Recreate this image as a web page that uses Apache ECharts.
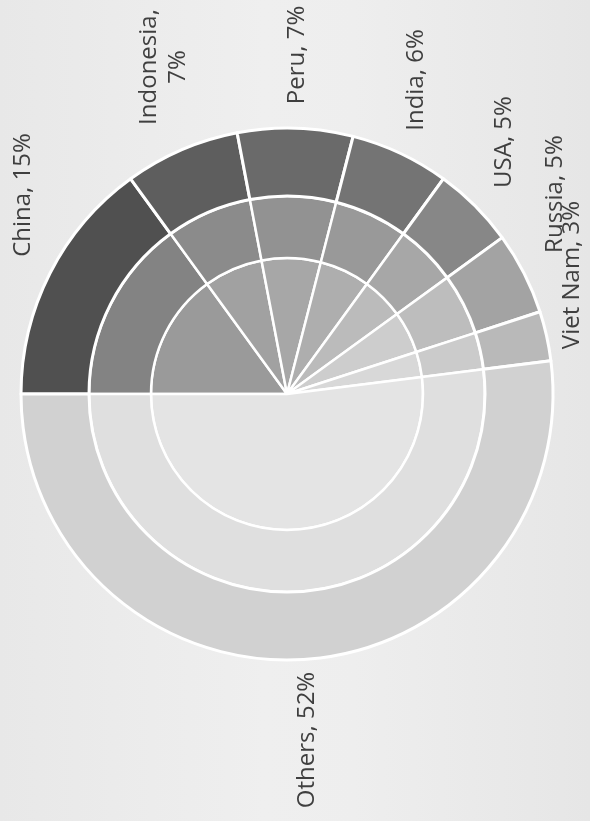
<!DOCTYPE html>
<html>
<head>
<meta charset="utf-8">
<script src="https://cdn.jsdelivr.net/npm/echarts@6/dist/echarts.min.js"></script>
<style>
  html, body { margin: 0; padding: 0; }
  #chart { width: 590px; height: 821px; }
</style>
</head>
<body>
<div id="chart"></div>
<script>
// Producer shares (%)
const countries = ['China', 'Indonesia', 'Peru', 'India', 'USA', 'Russia', 'Viet Nam', 'Others'];
const shares = [15, 7, 7, 6, 5, 5, 3, 52];
// labels that break after the comma
const wrapLabel = [false, true, false, false, false, false, false, false];

// Ring shades, darkest on the outside
const outerColors = ['#505050', '#5e5e5e', '#6a6a6a', '#747474', '#878787', '#a3a3a3', '#b9b9b9', '#d1d1d1'];
const middleColors = ['#838383', '#8b8b8b', '#929292', '#999999', '#a7a7a7', '#bdbdbd', '#cbcbcb', '#dfdfdf'];
const innerColors = ['#9a9a9a', '#a1a1a1', '#a7a7a7', '#aeaeae', '#bbbbbb', '#cdcdcd', '#d8d8d8', '#e4e4e4'];

// Label anchor points (pixels), one per slice
const labelAnchors = [[23, 195], [164, 67], [297, 55], [416, 80], [504, 142], [555, 194], [572, 275], [307, 740]];

const center = [287, 394];

function ring(colors, radius, border, withLabels) {
  return {
    type: 'pie',
    center: center,
    radius: radius,
    startAngle: 180,
    clockwise: true,
    silent: true,
    animation: false,
    avoidLabelOverlap: false,
    data: countries.map((name, i) => ({
      name: name,
      value: shares[i],
      itemStyle: { color: colors[i] }
    })),
    itemStyle: { borderColor: '#ffffff', borderWidth: border },
    label: withLabels ? {
      show: true,
      position: 'outside',
      rotate: 90,
      color: '#3f3f3f',
      fontFamily: 'Open Sans',
      fontSize: 24,
      lineHeight: 29,
      formatter: p => p.name + ',' + (wrapLabel[p.dataIndex] ? '\n' : ' ') + p.value + '%'
    } : { show: false },
    labelLine: { show: false },
    labelLayout: withLabels ? (params => ({
      x: labelAnchors[params.dataIndex][0],
      y: labelAnchors[params.dataIndex][1],
      rotate: 90,
      align: 'center',
      verticalAlign: 'middle'
    })) : undefined
  };
}

const chart = echarts.init(document.getElementById('chart'), null, { renderer: 'canvas' });
chart.setOption({
  backgroundColor: {
    type: 'linear', x: 0, y: 0, x2: 1, y2: 0,
    colorStops: [
      { offset: 0, color: '#e8e8e8' },
      { offset: 0.45, color: '#efefef' },
      { offset: 0.6, color: '#eeeeee' },
      { offset: 1, color: '#e6e6e6' }
    ]
  },
  series: [
    ring(innerColors, [0, 136], 2.5, false),
    ring(middleColors, [136, 198], 2.5, false),
    ring(outerColors, [198, 266], 3, true)
  ]
});
</script>
</body>
</html>
